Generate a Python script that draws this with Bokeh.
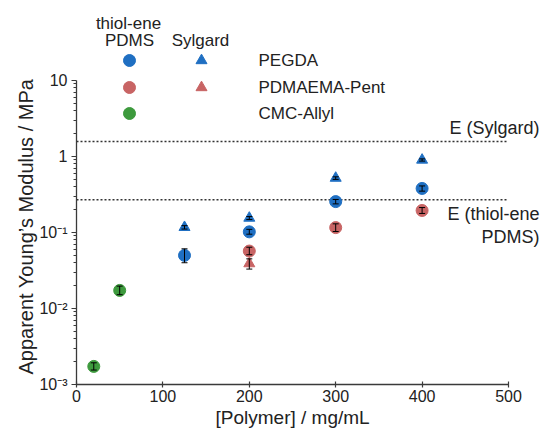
import math
from bokeh.plotting import figure
from bokeh.models import (ColumnDataSource, Whisker, TeeHead, FixedTicker, Title,
                          CustomJSTickFormatter)
from bokeh.core.properties import value
from bokeh.embed import file_html
from bokeh.resources import INLINE

# ---------------- data ----------------
peg_x = [125, 200, 300, 400]
peg_thiol = [0.050, 0.102, 0.255, 0.38]
peg_thiol_lo = [0.040, 0.095, 0.238, 0.35]
peg_thiol_hi = [0.061, 0.110, 0.272, 0.41]
peg_syl = [0.117, 0.155, 0.52, 0.90]
peg_syl_lo = [0.111, 0.148, 0.50, 0.87]
peg_syl_hi = [0.123, 0.162, 0.54, 0.93]

pdm_x = [200, 300, 400]
pdm_thiol = [0.057, 0.116, 0.195]
pdm_thiol_lo = [0.051, 0.103, 0.178]
pdm_thiol_hi = [0.064, 0.130, 0.213]
pdm_syl_x = [200]
pdm_syl = [0.039]
pdm_syl_lo = [0.033]
pdm_syl_hi = [0.045]

cmc_x = [20, 50]
cmc_thiol = [0.00173, 0.0173]
cmc_thiol_lo = [0.00155, 0.0152]
cmc_thiol_hi = [0.00193, 0.0197]

E_sylgard = 1.57
E_thiol = 0.27

x_ticks = [0, 100, 200, 300, 400, 500]
y_ticks = [1e-3, 1e-2, 1e-1, 1, 10]
y_minor = [k * 10.0 ** e for e in range(-3, 1) for k in range(2, 10)]

series_names = ["PEGDA", "PDMAEMA-Pent", "CMC-Allyl"]
BLUE = "#1f6fc2"
RED = "#c86464"
GREEN = "#3d9a3d"
FONT = "Liberation Sans"
TXT = "#222222"

# ---------------- layout helpers (canvas px -> data) ----------------
W, H = 545, 429
X0_PX, PX_PER_UNIT = 76.0, 0.864
Y0_PX, PX_PER_DECADE = 384.0, 76.0


def dx(px):
    return (px - X0_PX) / PX_PER_UNIT


def dy(py):
    return 10 ** (-3 + (Y0_PX - py) / PX_PER_DECADE)


p = figure(width=W, height=H, x_range=(0, dx(W)), y_range=(1e-3, dy(0)),
           y_axis_type="log", output_backend="svg", toolbar_location=None,
           min_border_left=int(X0_PX), min_border_right=0, min_border_top=0,
           min_border_bottom=int(H - Y0_PX))
p.outline_line_color = None
p.xgrid.grid_line_color = None
p.ygrid.grid_line_color = None

AX = "#3a3a3a"
for ax in (p.xaxis[0], p.yaxis[0]):
    ax.axis_line_color = AX
    ax.axis_line_width = 1.3
    ax.major_tick_line_color = AX
    ax.major_tick_line_width = 1.2
    ax.minor_tick_line_color = AX
    ax.major_label_text_font = FONT
    ax.major_label_text_font_size = "16px"
    ax.major_label_text_color = TXT

p.xaxis.ticker = FixedTicker(ticks=x_ticks)
p.xaxis.bounds = (0, 500)
p.xaxis.major_tick_in = 3
p.xaxis.major_tick_out = 3
p.xaxis.minor_tick_line_color = None
p.xaxis.major_label_standoff = 2

p.yaxis.ticker = FixedTicker(ticks=y_ticks, minor_ticks=y_minor)
p.yaxis.bounds = (1e-3, 10)
p.yaxis.major_tick_in = 0
p.yaxis.major_tick_out = 5
p.yaxis.minor_tick_in = 0
p.yaxis.minor_tick_out = 3
p.yaxis.major_label_standoff = 4
p.yaxis.formatter = CustomJSTickFormatter(code="""
const e = Math.round(Math.log10(tick));
const sup = {"-3": "\u207b\u00b3", "-2": "\u207b\u00b2", "-1": "\u207b\u00b9"};
if (e >= 0) { return String(Math.round(tick)); }
return "10" + sup[String(e)];
""")

# ---------------- axis titles ----------------
p.add_layout(Title(text="Apparent Young\u2019s Modulus / MPa", align="left",
                   offset=Y0_PX - 374, standoff=0, text_font=FONT,
                   text_font_size="20px", text_font_style="normal",
                   text_color=TXT), "left")
p.add_layout(Title(text="[Polymer] / mg/mL", align="left", offset=215 - X0_PX,
                   standoff=0, text_font=FONT, text_font_size="19px",
                   text_font_style="normal", text_color=TXT), "below")

# ---------------- reference lines ----------------
p.segment(x0=[x_ticks[0], x_ticks[0]], x1=[x_ticks[-1], x_ticks[-1]],
          y0=[E_sylgard, E_thiol], y1=[E_sylgard, E_thiol],
          line_color="#333333", line_width=1.5, line_dash="2 2")


# ---------------- data marks ----------------
def series(xs, ys, lo, hi, color, marker, size):
    src = ColumnDataSource(dict(x=xs, y=ys, lo=lo, hi=hi))
    p.scatter("x", "y", source=src, marker=marker, size=size,
              fill_color=color, line_color=color, fill_alpha=1.0)
    w = Whisker(base="x", upper="hi", lower="lo", source=src, dimension="height",
                line_color="black", line_width=1,
                upper_head=TeeHead(size=6, line_color="black", line_width=1),
                lower_head=TeeHead(size=6, line_color="black", line_width=1),
                level="annotation")
    p.add_layout(w)


series(peg_x, peg_syl, peg_syl_lo, peg_syl_hi, BLUE, "triangle", 11)
series(peg_x, peg_thiol, peg_thiol_lo, peg_thiol_hi, BLUE, "circle", 12)
series(pdm_syl_x, pdm_syl, pdm_syl_lo, pdm_syl_hi, RED, "triangle", 11)
series(pdm_x, pdm_thiol, pdm_thiol_lo, pdm_thiol_hi, RED, "circle", 12)
series(cmc_x, cmc_thiol, cmc_thiol_lo, cmc_thiol_hi, GREEN, "circle", 12)

# ---------------- legend (drawn as a grid) ----------------
row_py = [60, 87, 113]
p.scatter([dx(129)] * 3, [dy(v) for v in row_py], marker="circle", size=12,
          fill_color=[BLUE, RED, GREEN], line_color=[BLUE, RED, GREEN])
p.scatter([dx(201)] * 2, [dy(v) for v in row_py[:2]], marker="triangle", size=11,
          fill_color=[BLUE, RED], line_color=[BLUE, RED])
p.text(x=[dx(258)] * 3, y=[dy(v) for v in row_py], text=series_names,
       text_font=value(FONT), text_font_size=value("17px"), text_color=TXT,
       text_align="left", text_baseline="middle")
p.text(x=[dx(128), dx(129), dx(200)], y=[dy(23), dy(40), dy(40)],
       text=["thiol-ene", "PDMS", "Sylgard"],
       text_font=value(FONT), text_font_size=value("17px"), text_color=TXT,
       text_align="center", text_baseline="middle")

# ---------------- line annotations ----------------
p.text(x=[dx(539)] * 3, y=[dy(127), dy(213), dy(236)],
       text=["E (Sylgard)", "E (thiol-ene", "PDMS)"],
       text_font=value(FONT), text_font_size=value("18px"), text_color=TXT,
       text_align="right", text_baseline="middle")

open("out.html", "w").write(file_html(p, INLINE))
